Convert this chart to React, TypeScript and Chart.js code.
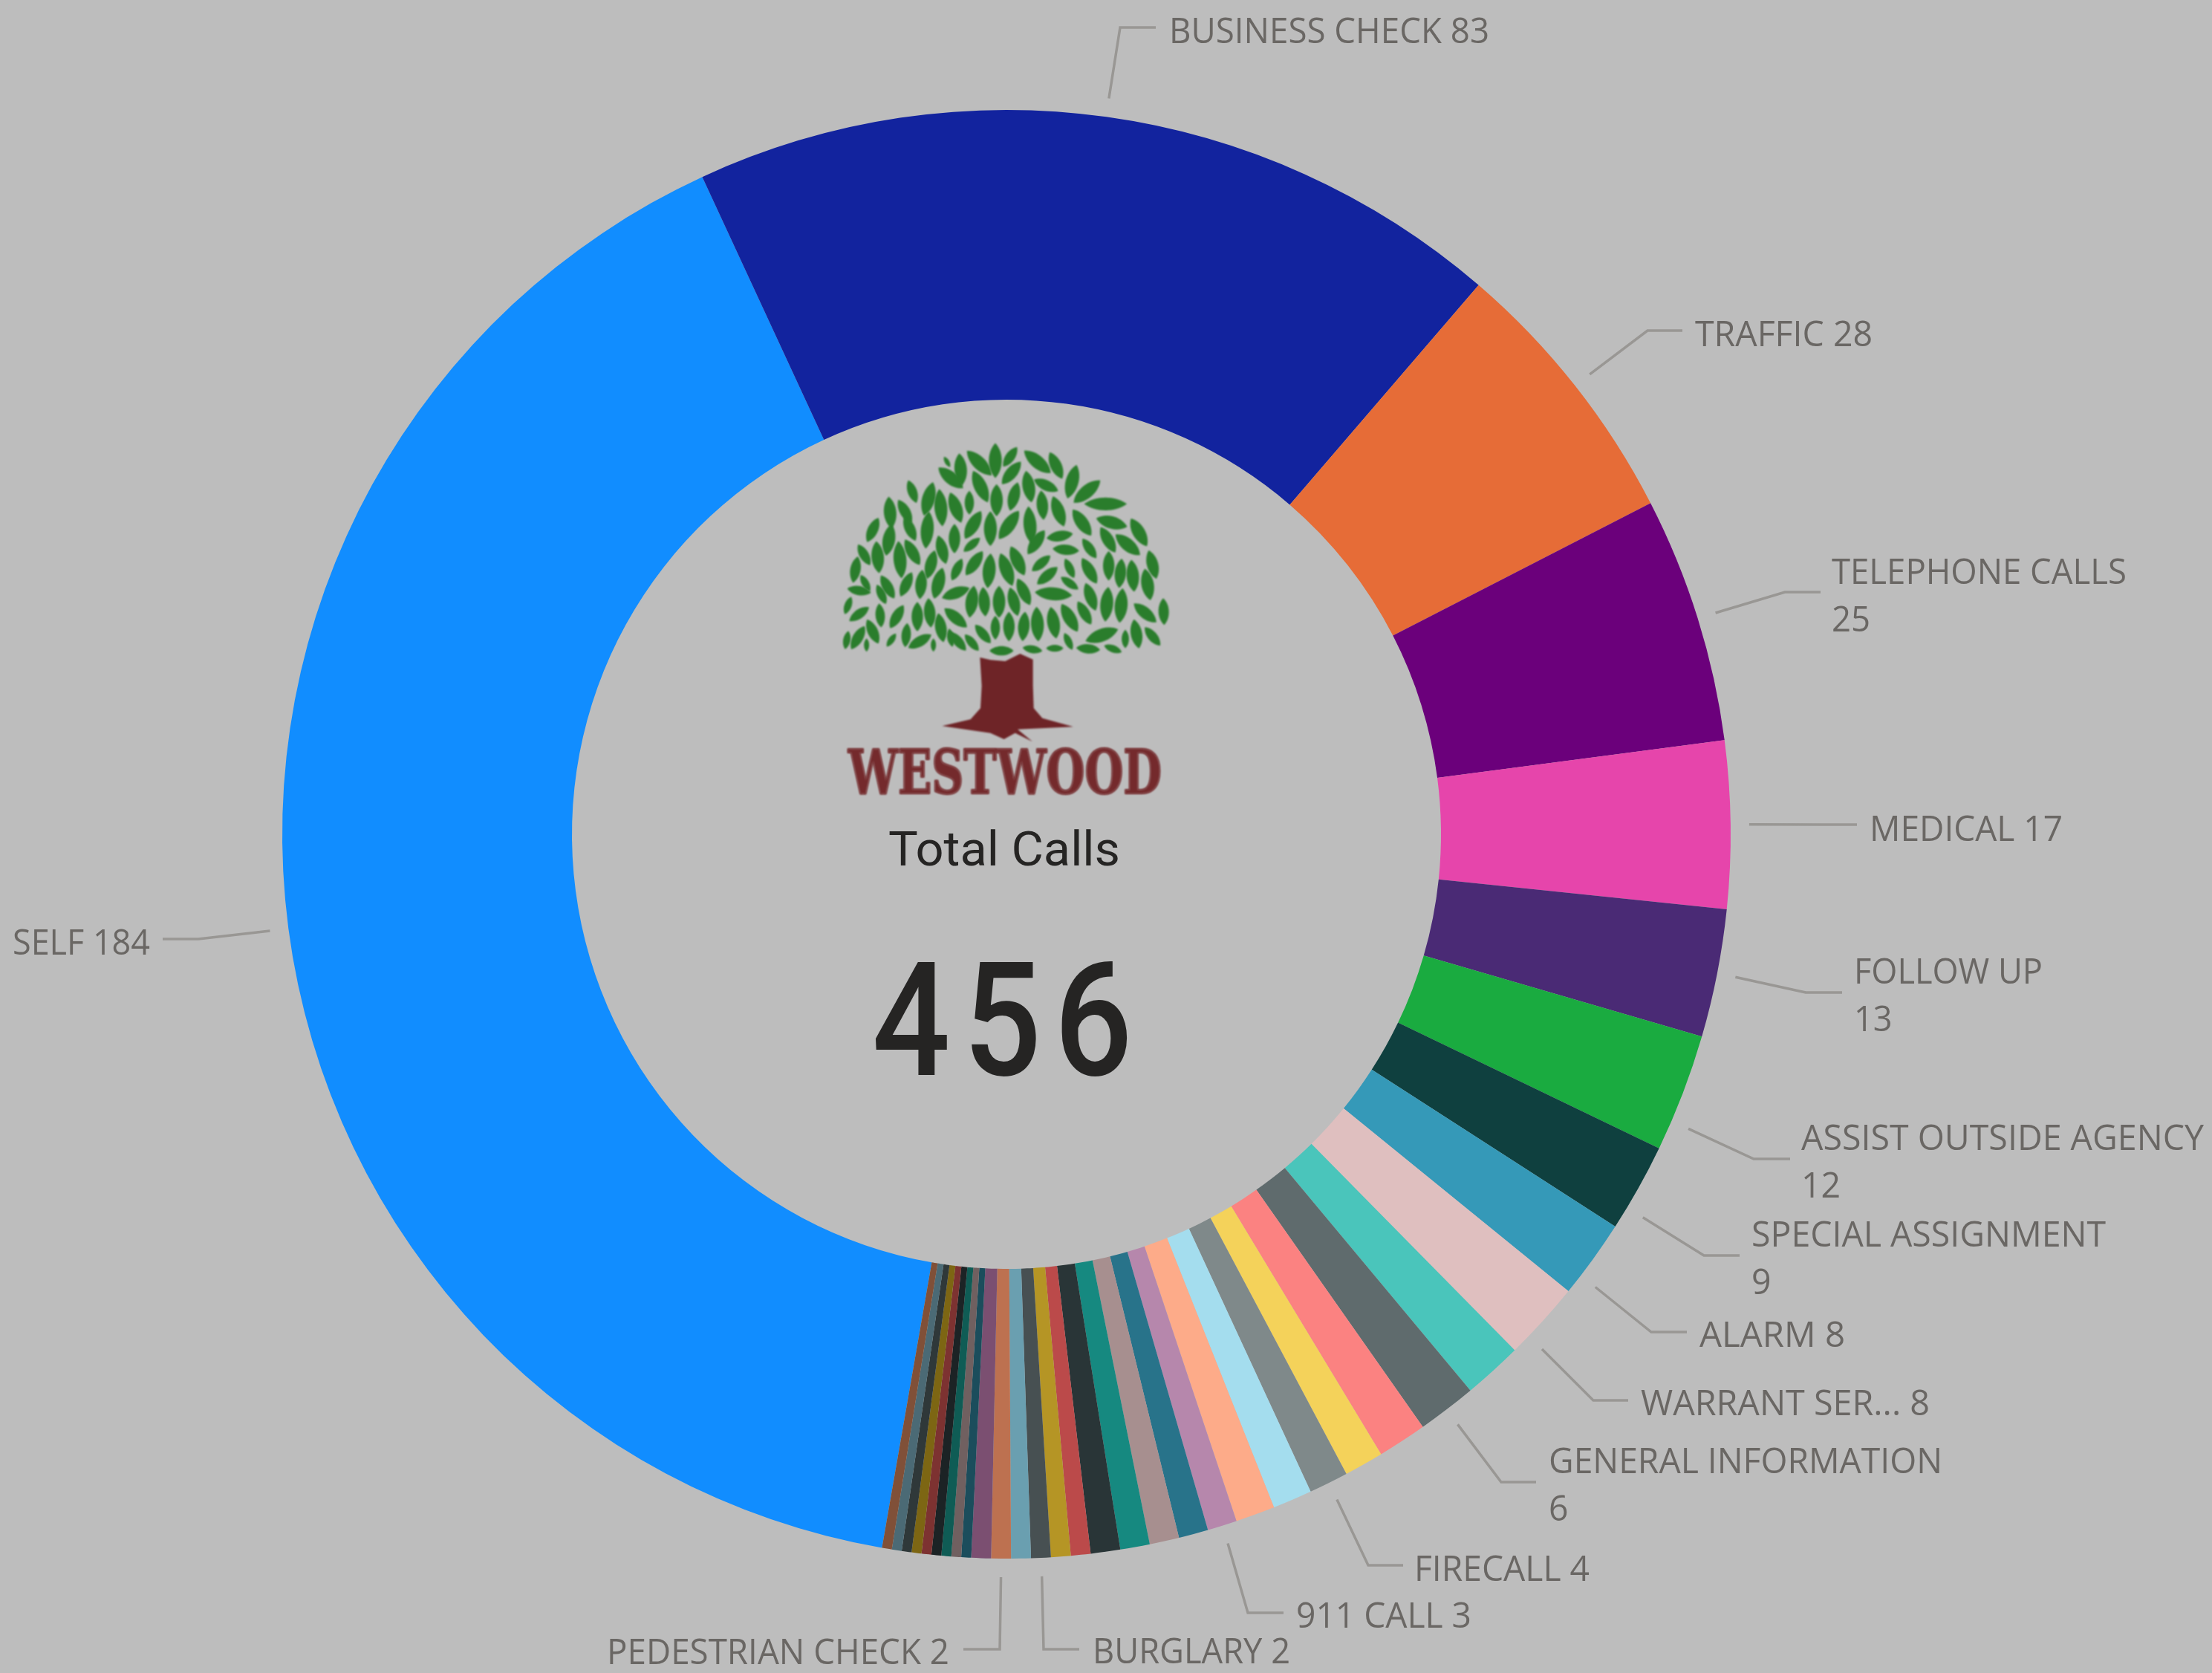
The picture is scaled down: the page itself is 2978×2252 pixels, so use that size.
import React, { useEffect, useRef } from "react";
import { Chart, registerables } from "chart.js";

Chart.register(...registerables);

// ---- data; ring runs clockwise from SELF ----
const categories = [
  "SELF", "BUSINESS CHECK", "TRAFFIC", "TELEPHONE CALLS", "MEDICAL", "FOLLOW UP",
  "ASSIST OUTSIDE AGENCY", "SPECIAL ASSIGNMENT", "ALARM", "WARRANT SER...", "GENERAL INFORMATION",
  "", "", "", "FIRECALL", "", "", "911 CALL", "", "", "", "", "", "", "BURGLARY", "", "PEDESTRIAN CHECK",
  "", "", "", "", "", "", "", "", "", "",
];
const values = [
  184, 83, 28, 25, 17, 13, 12, 9, 8, 8, 6,
  6, 5, 4, 4, 4, 4, 3, 3, 3, 3, 3, 2, 2, 2, 2, 2, 2,
  1, 1, 1, 1, 1, 1, 1, 1, 1,
];
const colors = [
  "#118DFF", "#12239E", "#E66C37", "#6B007B", "#E645AB", "#4A2A75", "#1AAB40", "#0F403F", "#3599B8", "#DFBFBF", "#4AC5BB",
  "#5F6B6D", "#FB8281", "#F4D25A", "#7F898A", "#A4DDEE", "#FDAB89", "#B687AC", "#28738A", "#A78F8F", "#168980", "#293537",
  "#BB4A4A", "#B59525", "#475052", "#6A9FB0", "#BD7150", "#7B4F71", "#1B4D5C", "#706060", "#0F5C55", "#1C2325", "#7D3231",
  "#7D6613", "#2F3839", "#4B6A75", "#805038",
];
const totalTitle = "Total Calls";
const totalValue = "456";
const brandName = "WESTWOOD";

// ---- label layout: index into the data, leader angle shift, elbow, line end, text x, baseline, first line width, wrapped ----
const labelLayout = [
  { i: 0, da: 0, ex: 267, ey: 1264, lx: 219, tx: 18, ty: 1284, w: 183, wrap: false },
  { i: 1, da: 0, ex: 1508, ey: 37, lx: 1556, tx: 1575, ty: 57, w: 429, wrap: false },
  { i: 2, da: 0, ex: 2218, ey: 445, lx: 2265, tx: 2283, ty: 465, w: 237, wrap: false },
  { i: 3, da: 0, ex: 2403, ey: 797, lx: 2451, tx: 2467, ty: 785, w: 395, wrap: true },
  { i: 4, da: 0, ex: 2452, ey: 1110, lx: 2500, tx: 2518, ty: 1131, w: 258, wrap: false },
  { i: 5, da: 0, ex: 2431, ey: 1336, lx: 2480, tx: 2497, ty: 1323, w: 252, wrap: true },
  { i: 6, da: 2.4, ex: 2361, ey: 1560, lx: 2410, tx: 2426, ty: 1547, w: 540, wrap: true },
  { i: 7, da: 1.8, ex: 2294, ey: 1690, lx: 2342, tx: 2359, ty: 1677, w: 475, wrap: true },
  { i: 8, da: 1.6, ex: 2223, ey: 1793, lx: 2271, tx: 2289, ty: 1812, w: 194, wrap: false },
  { i: 9, da: 1.6, ex: 2145, ey: 1885, lx: 2192, tx: 2210, ty: 1904, w: 387, wrap: false },
  { i: 10, da: 4.8, ex: 2021, ey: 1995, lx: 2068, tx: 2086, ty: 1982, w: 528, wrap: true },
  { i: 14, da: 0, ex: 1842, ey: 2107, lx: 1889, tx: 1905, ty: 2127, w: 234, wrap: false },
  { i: 17, da: 0, ex: 1680, ey: 2171, lx: 1728, tx: 1746, ty: 2190, w: 234, wrap: false },
  { i: 24, da: 0, ex: 1405, ey: 2220, lx: 1453, tx: 1472, ty: 2238, w: 264, wrap: false },
  { i: 26, da: 0, ex: 1346, ey: 2220, lx: 1297, tx: 818, ty: 2239, w: 459, wrap: false },
];

// ---- logo artwork: [x, y, tilt degrees, length] in a 1410-unit box ----
const leaves = [
  [465,95,-30,45],[520,125,-5,120],[595,100,-45,130],[660,90,0,130],[720,75,35,90],[830,95,-50,130],[905,110,-25,110],[970,175,15,130],
  [480,160,-50,120],[725,140,40,110],[600,195,-25,130],[795,195,-10,120],[865,190,-65,100],[1030,215,50,130],[1105,265,-90,160],
  [325,215,-20,90],[390,245,15,130],[440,280,-5,140],[500,280,-20,120],[555,260,0,90],[665,250,0,120],[735,235,15,110],[850,270,-5,110],[915,295,-20,120],
  [235,300,-5,120],[295,295,-30,100],[1010,340,-35,120],[1130,340,-75,120],[1240,380,-30,120],[165,370,25,100],[315,365,-25,100],[385,370,5,140],
  [495,405,0,110],[570,350,30,120],[640,365,0,130],[715,350,35,130],[800,350,-5,140],[920,395,80,100],[825,420,35,110],[1115,410,-30,110],[1195,430,-50,120],
  [230,410,10,120],[130,470,-30,90],[185,480,-5,120],[445,450,-15,110],[565,430,50,80],[275,490,-5,140],[325,460,-30,110],[945,450,-85,100],[1040,445,-35,90],
  [1295,510,-15,110],[95,530,10,100],[400,510,15,110],[505,530,25,90],[575,505,35,110],[635,535,5,130],[705,530,-20,130],[750,495,-25,120],[845,505,50,90],
  [960,525,-25,80],[1040,535,-30,110],[1118,515,0,110],[1165,545,5,110],[1215,555,-5,120],[1275,590,-10,120],[135,585,-30,70],[225,600,-30,100],[300,590,25,100],
  [360,590,5,110],[430,585,15,120],[110,615,-80,90],[200,630,-25,80],[870,555,50,100],[960,585,-55,80],[500,625,70,110],[565,660,8,120],[615,660,-5,110],
  [675,660,0,120],[735,660,-15,110],[775,620,-25,110],[895,628,-85,140],[1045,640,-20,110],[1110,670,5,130],[1168,675,5,130],[65,675,20,70],[110,710,55,90],
  [195,715,-5,90],[262,720,30,100],[345,720,0,110],[395,705,-5,110],[500,725,-50,110],[1020,705,-30,100],[1265,705,-50,110],[1340,700,-2,100],[960,725,-30,120],
  [660,765,0,90],[715,760,0,110],[775,760,5,110],[830,750,-3,130],[895,745,-10,120],[440,765,-10,110],[610,790,-40,90],[165,780,-25,100],[300,795,5,90],
  [105,805,30,100],[60,815,10,70],[240,815,35,60],[140,835,0,50],[355,820,60,100],[410,835,0,50],[1090,795,70,130],[1185,810,0,70],[1230,790,-10,110],
  [1295,800,-40,90],[480,805,-10,70],[510,820,-40,90],[565,825,-40,80],[955,820,-25,70],[1035,850,-85,90],[1135,850,-70,70],[685,858,90,90],[810,852,-80,75],[900,848,90,65],
];
const trunk = [
  [598,885],[640,895],[700,900],[760,870],[812,893],[812,1000],[815,1090],[850,1130],[975,1165],[750,1175],[810,1225],
  [740,1190],[695,1215],[640,1190],[445,1162],[560,1135],[600,1090],[605,1000],
];

const BG = "#BDBDBD";
const TEXT = "#6A6764";
const LEADER = "#999794";
const DARK = "#252423";

function fitText(ctx: CanvasRenderingContext2D, text: string, x: number, y: number, width: number) {
  const m = ctx.measureText(text).width;
  ctx.save();
  ctx.translate(x, y);
  ctx.scale(width / m, 1);
  ctx.fillText(text, 0, 0);
  ctx.restore();
}

const annotations = {
  id: "annotations",
  afterDraw(chart: any) {
    const ctx: CanvasRenderingContext2D = chart.ctx;
    const arcs = chart.getDatasetMeta(0).data;
    ctx.save();
    ctx.textBaseline = "alphabetic";
    ctx.textAlign = "left";

    // leader lines and labels
    for (const l of labelLayout) {
      const a = arcs[l.i].getProps(["x", "y", "startAngle", "endAngle", "outerRadius"]);
      const mid = (a.startAngle + a.endAngle) / 2 + (l.da * Math.PI) / 180;
      const r = a.outerRadius + 25;
      ctx.beginPath();
      ctx.moveTo(a.x + Math.cos(mid) * r, a.y + Math.sin(mid) * r);
      ctx.lineTo(l.ex, l.ey);
      ctx.lineTo(l.lx, l.ey);
      ctx.strokeStyle = LEADER;
      ctx.lineWidth = 3.5;
      ctx.stroke();

      ctx.fillStyle = TEXT;
      ctx.font = '400 48px "Open Sans", "Noto Sans", sans-serif';
      const name = categories[l.i];
      const val = String(values[l.i]);
      const x = l.tx - 1;
      const w = l.w + 2;
      if (l.wrap) {
        const scale = w / ctx.measureText(name).width;
        fitText(ctx, name, x, l.ty + 0.5, w);
        fitText(ctx, val, x, l.ty + 65, ctx.measureText(val).width * scale);
      } else {
        fitText(ctx, `${name} ${val}`, x, l.ty + 0.5, w);
      }
    }

    // centre logo
    const lx = (v: number) => 1120 + v / 3;
    const ly = (v: number) => 590 + v / 3;
    ctx.save();
    (ctx as any).filter = "blur(0.8px)";
    ctx.fillStyle = "#2A7D2C";
    for (const [x, y, tilt, len] of leaves) {
      const w = Math.min(len * 0.42, 52) / 3 / 1.5;
      const hl = (len * 1.08) / 6;
      ctx.save();
      ctx.translate(lx(x), ly(y));
      ctx.rotate((tilt * Math.PI) / 180);
      ctx.beginPath();
      ctx.moveTo(0, -hl);
      ctx.bezierCurveTo(w, -hl * 0.5, w, hl * 0.5, 0, hl);
      ctx.bezierCurveTo(-w, hl * 0.5, -w, -hl * 0.5, 0, -hl);
      ctx.fill();
      ctx.restore();
    }
    ctx.fillStyle = "#6E2427";
    ctx.beginPath();
    trunk.forEach(([x, y], k) => (k ? ctx.lineTo(lx(x), ly(y)) : ctx.moveTo(lx(x), ly(y))));
    ctx.closePath();
    ctx.fill();
    ctx.fillStyle = "#742A2C";
    ctx.strokeStyle = "#742A2C";
    ctx.lineWidth = 2;
    ctx.font = 'bold 82px "DejaVu Serif", serif';
    const bw = 422;
    const bm = ctx.measureText(brandName).width;
    ctx.save();
    ctx.translate(1142, 1068);
    ctx.scale(bw / bm, 1);
    ctx.strokeText(brandName, 0, 0);
    ctx.fillText(brandName, 0, 0);
    ctx.restore();
    ctx.restore();

    // centre total
    ctx.fillStyle = DARK;
    ctx.font = '400 65px Roboto, sans-serif';
    fitText(ctx, totalTitle, 1196, 1165, 312);
    ctx.font = '500 214px Roboto, sans-serif';
    (ctx as any).letterSpacing = "20px";
    fitText(ctx, totalValue, 1174, 1447, 368);
    (ctx as any).letterSpacing = "0px";
    ctx.restore();
  },
};

export default function App() {
  const ref = useRef<HTMLCanvasElement>(null);
  useEffect(() => {
    document.body.style.margin = "0";
    document.body.style.background = BG;
    const chart = new Chart(ref.current as HTMLCanvasElement, {
      type: "doughnut",
      data: {
        labels: categories,
        datasets: [{ data: values, backgroundColor: colors, borderWidth: 0, hoverOffset: 0 }],
      },
      options: {
        animation: false,
        responsive: false,
        devicePixelRatio: 1,
        cutout: "60%",
        rotation: -170.1,
        layout: { padding: { left: 380, right: 648, top: 148, bottom: 154 } },
        plugins: { legend: { display: false }, tooltip: { enabled: false } },
        events: [],
      },
      plugins: [annotations],
    } as any);
    return () => chart.destroy();
  }, []);
  return (
    <canvas
      ref={ref}
      width={2978}
      height={2252}
      style={{ display: "block", position: "absolute", left: 0, top: 0, width: 2978, height: 2252, background: BG }}
    />
  );
}
